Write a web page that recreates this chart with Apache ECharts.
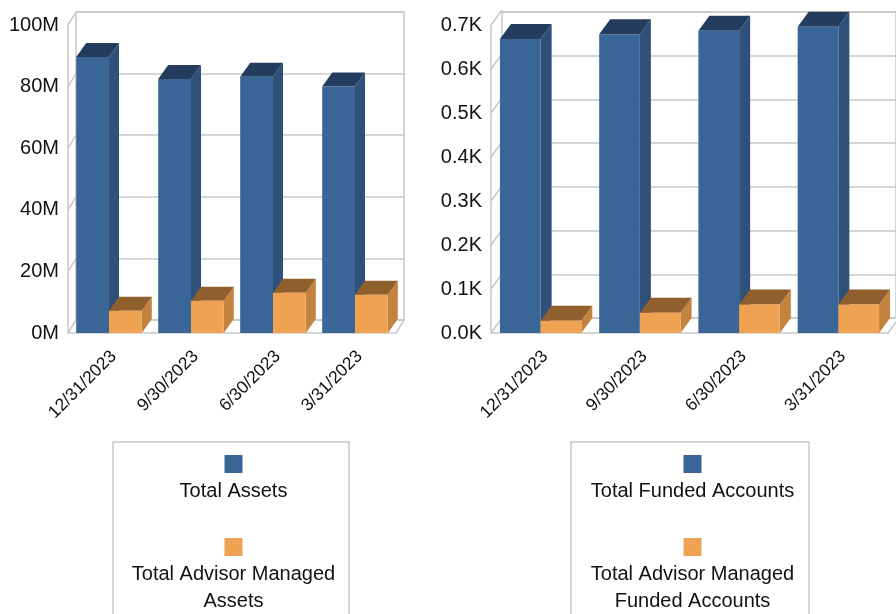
<!DOCTYPE html>
<html>
<head>
<meta charset="utf-8">
<script src="https://cdn.jsdelivr.net/npm/echarts@6/dist/echarts.min.js"></script>
<style>
  html, body { margin: 0; padding: 0; background: #fff; }
  #chart { width: 896px; height: 614px; }
</style>
</head>
<body>
<div id="chart"></div>
<script>
const categories = ['12/31/2023', '9/30/2023', '6/30/2023', '3/31/2023'];
const totalAssets = [89.6e6, 82.5e6, 83.2e6, 80.0e6];
const advisorAssets = [7.2e6, 10.5e6, 13.1e6, 12.4e6];
const fundedAccounts = [668, 679, 687, 696];
const advisorAccounts = [28, 46, 65, 65];
const assetTicks = [0, 20e6, 40e6, 60e6, 80e6, 100e6];
const accountTicks = [0, 100, 200, 300, 400, 500, 600, 700];

const gridColor = '#c8c8c8';
const textColor = '#111';
const blue = { front: '#3a6597', side: '#2e5079', top: '#243d5e' };
const orange = { front: '#efa252', side: '#c4823f', top: '#8f5f2e' };

// side wall slants + floor edge, drawn off the front grid
const frameItem = (dx, dy) => (params, api) => {
  const cs = params.coordSys;
  const y = api.coord([0, api.value(1)])[1];
  const line = (x) => ({
    type: 'line',
    shape: { x1: x, y1: y, x2: x + dx, y2: y + dy },
    style: { stroke: gridColor, lineWidth: 1.5 }
  });
  const children = [line(cs.x)];
  if (api.value(1) === 0) children.push(line(cs.x + cs.width));
  return { type: 'group', children };
};

// pseudo 3D column: front face, right side, top
const barItem = (slot, frac, dx, dy, c) => (params, api) => {
  const i = api.value(0);
  const base = api.coord([i, 0]);
  const top = api.coord([i, api.value(1)]);
  const w = api.size([1, 0])[0] * frac;
  const x0 = slot === 0 ? base[0] - w : base[0];
  const x1 = x0 + w, yt = top[1], yb = base[1];
  return {
    type: 'group',
    children: [
      { type: 'polygon', shape: { points: [[x1, yt], [x1 + dx, yt + dy], [x1 + dx, yb + dy], [x1, yb]] }, style: { fill: c.side } },
      { type: 'polygon', shape: { points: [[x0, yt], [x0 + dx, yt + dy], [x1 + dx, yt + dy], [x1, yt]] }, style: { fill: c.top } },
      { type: 'rect', shape: { x: x0, y: yt, width: w, height: yb - yt }, style: { fill: c.front } }
    ]
  };
};

const wrap = (name) => {
  const lines = [];
  let cur = '';
  name.split(' ').forEach(w => {
    const next = cur ? cur + ' ' + w : w;
    if (next.length > 22) { lines.push(cur); cur = w; } else cur = next;
  });
  lines.push(cur);
  return lines;
};

const legendFor = (names, left, textWidth) => ({
  data: names,
  orient: 'vertical',
  left: left,
  top: 442,
  height: 400,
  itemWidth: 0,
  itemHeight: 0,
  itemGap: 37,
  icon: 'rect',
  selectedMode: false,
  padding: [13, 0, 40, 0],
  borderColor: gridColor,
  borderWidth: 1.5,
  formatter: (name) => '{' + (name === names[0] ? 'b' : 'o') + '|}\n' +
    wrap(name).map(l => '{t|' + l + '}').join('\n'),
  textStyle: {
    rich: {
      b: { width: 18, height: 18, backgroundColor: blue.front, lineHeight: 27, align: 'center' },
      o: { width: 18, height: 18, backgroundColor: orange.front, lineHeight: 27, align: 'center' },
      t: { width: textWidth, align: 'center', fontSize: 20, lineHeight: 27, color: textColor, fontFamily: 'Liberation Sans' }
    }
  }
});

const xAxisFront = (gridIndex) => ({
  type: 'category', gridIndex, data: categories,
  axisLine: { lineStyle: { color: gridColor, width: 1.5 } },
  axisTick: { show: false },
  axisLabel: {
    rotate: 45, margin: 16, interval: 0, verticalAlign: 'top', lineHeight: 13,
    fontSize: 17.5, color: textColor, fontFamily: 'Liberation Sans'
  }
});
const xAxisBack = (gridIndex) => ({
  type: 'category', gridIndex, data: categories, show: false
});
const yAxisFront = (gridIndex, max, interval, fmt) => ({
  type: 'value', gridIndex, min: 0, max, interval,
  axisLine: { show: true, lineStyle: { color: gridColor, width: 1.5 } },
  axisTick: { show: false },
  splitLine: { show: false },
  axisLabel: { margin: 9, fontSize: 20, color: textColor, fontFamily: 'Liberation Sans', formatter: fmt }
});
const yAxisBack = (gridIndex, max, interval) => ({
  type: 'value', gridIndex, min: 0, max, interval,
  axisLine: { show: false }, axisTick: { show: false }, axisLabel: { show: false },
  splitLine: { show: true, lineStyle: { color: gridColor, width: 1.5 } }
});

const option = {
  backgroundColor: '#fff',
  animation: false,
  grid: [
    { left: 68, top: 25, width: 328, height: 308 },
    { left: 76, top: 12, width: 328, height: 308, show: true, borderColor: gridColor, borderWidth: 1.5 },
    { left: 491, top: 25, width: 397, height: 308 },
    { left: 502, top: 12, width: 397, height: 306, show: true, borderColor: gridColor, borderWidth: 1.5 }
  ],
  xAxis: [xAxisFront(0), xAxisBack(1), xAxisFront(2), xAxisBack(3)],
  yAxis: [
    yAxisFront(0, 100e6, 20e6, v => (v / 1e6) + 'M'),
    yAxisBack(1, 100e6, 20e6),
    yAxisFront(2, 700, 100, v => (v / 1000).toFixed(1) + 'K'),
    yAxisBack(3, 700, 100)
  ],
  legend: [
    legendFor(['Total Assets', 'Total Advisor Managed Assets'], 113, 231),
    legendFor(['Total Funded Accounts', 'Total Advisor Managed Funded Accounts'], 571, 233)
  ],
  series: [
    { type: 'custom', name: 'frameL', xAxisIndex: 0, yAxisIndex: 0, silent: true,
      data: assetTicks.map(v => [0, v]), renderItem: frameItem(8, -13) },
    { type: 'custom', name: 'Total Assets', xAxisIndex: 0, yAxisIndex: 0,
      data: totalAssets.map((v, i) => [i, v]), renderItem: barItem(0, 0.4, 10, -14, blue) },
    { type: 'custom', name: 'Total Advisor Managed Assets', xAxisIndex: 0, yAxisIndex: 0,
      data: advisorAssets.map((v, i) => [i, v]), renderItem: barItem(1, 0.4, 10, -14, orange) },
    { type: 'custom', name: 'frameR', xAxisIndex: 2, yAxisIndex: 2, silent: true,
      data: accountTicks.map(v => [0, v]), renderItem: frameItem(11, -15) },
    { type: 'custom', name: 'Total Funded Accounts', xAxisIndex: 2, yAxisIndex: 2,
      data: fundedAccounts.map((v, i) => [i, v]), renderItem: barItem(0, 0.41, 11, -15, blue) },
    { type: 'custom', name: 'Total Advisor Managed Funded Accounts', xAxisIndex: 2, yAxisIndex: 2,
      data: advisorAccounts.map((v, i) => [i, v]), renderItem: barItem(1, 0.41, 11, -15, orange) }
  ]
};

const chart = echarts.init(document.getElementById('chart'), null, { renderer: 'canvas' });
chart.setOption(option);
</script>
</body>
</html>
